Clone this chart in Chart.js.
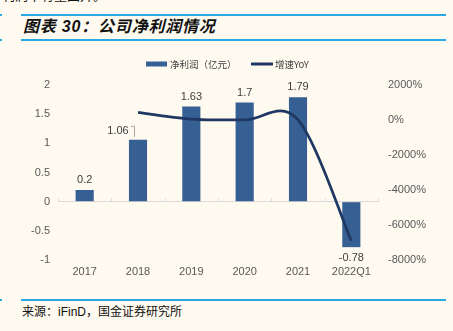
<!DOCTYPE html>
<html>
<head>
<meta charset="utf-8">
<script src="https://cdn.jsdelivr.net/npm/chart.js@4"></script>
<style>
    body {
        margin: 0;
        width: 453px;
        height: 331px;
        overflow: hidden;
        position: relative;
        background: #fefaf0;
        font-family: 'Liberation Sans', 'Noto Sans CJK SC', sans-serif;
    }
    .rule {
        position: absolute;
        left: 21px;
        width: 425px;
        height: 2px;
        background: #2aa8e2;
    }
    .stub {
        position: absolute;
        left: 0;
        width: 2px;
        height: 2px;
        background: #2aa8e2;
    }
    .prev-line {
        position: absolute;
        left: 2px;
        top: -13.5px;
        font-size: 13px;
        line-height: 16px;
        color: #111;
        font-family: 'Noto Sans CJK SC', sans-serif;
    }
    .title {
        position: absolute;
        left: 23px;
        top: 16px;
        line-height: 22px;
        font-size: 16px;
        letter-spacing: 0.8px;
        font-weight: bold;
        font-style: italic;
        color: #111;
    }
    .source {
        position: absolute;
        left: 22px;
        top: 304px;
        line-height: 16px;
        font-size: 12px;
        color: #111;
    }
    #chart {
        position: absolute;
        left: 0;
        top: 45px;
    }
</style>
</head>
<body>
<div class="prev-line">利润率有望回升。</div>
<div class="stub" style="top:14px"></div>
<div class="rule" style="top:14px"></div>
<div class="title">图表 30：公司净利润情况</div>
<div class="stub" style="top:39px"></div>
<div class="rule" style="top:39px"></div>
<canvas id="chart" width="453" height="240"></canvas>
<div class="stub" style="top:299px"></div>
<div class="rule" style="top:299px"></div>
<div class="source">来源：iFinD，国金证券研究所</div>

<script>
// categories and series
const years = ["2017", "2018", "2019", "2020", "2021", "2022Q1"];
const netProfit = [0.2, 1.06, 1.63, 1.7, 1.79, -0.78];      // 亿元
const yoyGrowth = [null, 430, 54, 4, 5, -6900];              // %

// axis ranges: [min, max, step]
const profitAxis = [-1, 2, 0.5];
const growthAxis = [-8000, 2000, 2000];

const legendNames = ["净利润（亿元）", "增速YoY"];

const barColor = "#365f93";
const lineColor = "#1f3763";
const tickColor = "#595959";
const labelColor = "#404040";

Chart.defaults.font.family = "'Liberation Sans', 'Noto Sans CJK SC', sans-serif";

// value labels on the bars, the 2018 one sits to the left with a leader line
const barLabels = {
    id: "barLabels",
    afterDatasetsDraw(chart) {
        const ctx = chart.ctx;
        const meta = chart.getDatasetMeta(0);
        ctx.save();
        ctx.font = "11px 'Liberation Sans'";
        ctx.fillStyle = labelColor;
        ctx.textAlign = "center";
        ctx.textBaseline = "middle";
        meta.data.forEach(function (bar, i) {
            const v = netProfit[i];
            if (i === 1) {
                ctx.fillText(String(v), bar.x - 20, bar.y - 9);
                ctx.strokeStyle = "#a6a6a6";
                ctx.lineWidth = 1;
                ctx.beginPath();
                ctx.moveTo(bar.x - 7, bar.y - 13.5);
                ctx.lineTo(bar.x - 3.5, bar.y - 13.5);
                ctx.lineTo(bar.x - 3.5, bar.y - 3);
                ctx.stroke();
            } else if (v >= 0) {
                ctx.fillText(String(v), bar.x, bar.y - 10);
            } else {
                ctx.fillText(String(v), bar.x, bar.y + 11);
            }
        });
        ctx.restore();
    }
};

// short category marks on the zero line
const zeroTicks = {
    id: "zeroTicks",
    beforeDatasetsDraw(chart) {
        const ctx = chart.ctx;
        const x = chart.scales.x;
        const y0 = chart.scales.y.getPixelForValue(0);
        const half = (x.getPixelForValue(1) - x.getPixelForValue(0)) / 2;
        ctx.save();
        ctx.strokeStyle = "#d9d9d9";
        ctx.lineWidth = 1;
        ctx.beginPath();
        for (let i = 0; i <= years.length; i++) {
            const px = Math.round(x.getPixelForValue(i) - half) + 0.5;
            ctx.moveTo(px, y0 - 3);
            ctx.lineTo(px, y0);
        }
        ctx.stroke();
        ctx.restore();
    }
};

// office-style smoothing: control points at 1/6 of the neighbour chord
const officeSmooth = {
    id: "officeSmooth",
    beforeDatasetDraw(chart, args) {
        const meta = args.meta;
        if (meta.type !== "line") return;
        meta.dataset.updateControlPoints(chart.chartArea);
        const pts = meta.data.filter(function (p) { return !p.skip; });
        for (let i = 0; i < pts.length; i++) {
            const prev = pts[Math.max(i - 1, 0)];
            const next = pts[Math.min(i + 1, pts.length - 1)];
            const dx = (next.x - prev.x) / 6;
            const dy = (next.y - prev.y) / 6;
            pts[i].cp1x = pts[i].x - dx;
            pts[i].cp1y = pts[i].y - dy;
            pts[i].cp2x = pts[i].x + dx;
            pts[i].cp2y = pts[i].y + dy;
        }
    }
};

// legend row above the plot
const topLegend = {
    id: "topLegend",
    afterDraw(chart) {
        const ctx = chart.ctx;
        const cy = 19;
        ctx.save();
        ctx.font = "9.5px 'Noto Sans CJK SC'";
        ctx.textBaseline = "middle";
        ctx.fillStyle = barColor;
        ctx.fillRect(146, cy - 2.5, 21, 5);
        ctx.fillStyle = labelColor;
        ctx.fillText(legendNames[0], 170, cy);
        ctx.strokeStyle = lineColor;
        ctx.lineWidth = 3;
        ctx.beginPath();
        ctx.moveTo(251, cy);
        ctx.lineTo(273, cy);
        ctx.stroke();
        ctx.fillText(legendNames[1], 275, cy);
        ctx.restore();
    }
};

new Chart(document.getElementById("chart"), {
    data: {
        labels: years,
        datasets: [
            {
                type: "bar",
                label: legendNames[0],
                data: netProfit,
                backgroundColor: barColor,
                barPercentage: 0.34,
                categoryPercentage: 1,
                yAxisID: "y",
                order: 1,
            },
            {
                type: "line",
                label: legendNames[1],
                data: yoyGrowth,
                borderColor: lineColor,
                borderWidth: 2.75,
                pointRadius: 0,
                tension: 0.4,
                yAxisID: "y1",
                order: 0,
            },
        ],
    },
    options: {
        responsive: false,
        animation: false,
        devicePixelRatio: 1,
        layout: {
            padding: { top: 40, left: 0, right: 0, bottom: 0 },
        },
        plugins: {
            legend: { display: false },
            tooltip: { enabled: false },
        },
        scales: {
            x: {
                offset: true,
                grid: { display: false, drawTicks: false },
                border: { display: false },
                ticks: { color: tickColor, font: { size: 11 }, padding: 5 },
                afterFit: function (s) { s.height = 25; },
            },
            y: {
                position: "left",
                min: profitAxis[0],
                max: profitAxis[1],
                ticks: {
                    stepSize: profitAxis[2],
                    color: tickColor,
                    font: { size: 11 },
                    padding: 8,
                    callback: function (v) { return String(v); },
                },
                grid: {
                    drawTicks: false,
                    color: function (c) { return c.tick.value === 0 ? "#d9d9d9" : "rgba(0,0,0,0)"; },
                },
                border: { display: false },
                afterFit: function (s) { s.width = 58; },
            },
            y1: {
                position: "right",
                min: growthAxis[0],
                max: growthAxis[1],
                ticks: {
                    stepSize: growthAxis[2],
                    color: tickColor,
                    font: { size: 11 },
                    padding: 10,
                    callback: function (v) { return v + "%"; },
                },
                grid: { display: false, drawTicks: false },
                border: { display: false },
                afterFit: function (s) { s.width = 75; },
            },
        },
    },
    plugins: [barLabels, zeroTicks, officeSmooth, topLegend],
});
</script>
</body>
</html>
